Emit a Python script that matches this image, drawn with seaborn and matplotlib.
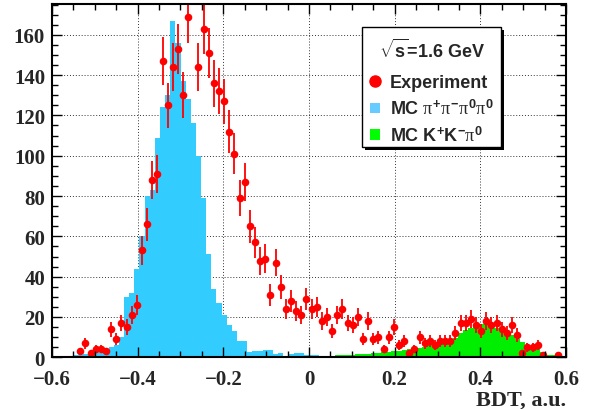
import numpy as np
import pandas as pd
import matplotlib
matplotlib.use("Agg")
import matplotlib.pyplot as plt
import seaborn as sns
from matplotlib.lines import Line2D
from matplotlib.patches import Patch, Rectangle
from matplotlib.ticker import MultipleLocator

# ---------------- data ----------------
bdt_range = (-0.6, 0.6)
n_bins = 100

# Experiment counts per bin (100 bins from -0.6 to 0.6)
exp_counts = [
    0, 0, 0, 0, 0, 3, 7, 2, 4, 4,
    3, 14, 9, 17, 15, 21, 26, 53, 66, 88,
    91, 147, 125, 144, 153, 130, 169, 192, 144, 163,
    151, 136, 132, 127, 112, 101, 79, 87, 65, 57,
    48, 49, 31, 47, 35, 24, 28, 23, 21, 29,
    24, 25, 18, 20, 13, 21, 24, 17, 16, 20,
    9, 18, 9, 10, 4, 10, 15, 6, 8, 2,
    4, 10, 7, 8, 6, 8, 8, 8, 12, 17,
    17, 19, 16, 13, 18, 16, 17, 14, 12, 16,
    11, 2, 5, 5, 6, 1, 0, 0, 1, 0,
]

# MC pi+ pi- pi0 pi0
mc_4pi = [
    0, 0, 0, 0, 1, 1, 1.5, 2, 2, 2,
    3, 5, 6, 10, 30, 32, 44, 60, 80, 83,
    109, 124, 130, 167, 156, 137, 128, 116, 100, 79,
    51, 34, 27, 21, 16, 13, 8, 8, 2.5, 3,
    3, 3.5, 3.5, 1.5, 2, 0.5, 1.5, 2, 2, 1,
    1, 1, 0, 0, 0, 0, 0, 0, 0, 0,
    0, 0, 0, 0, 0, 0, 0, 0, 0, 0,
    0, 0, 0, 0, 0, 0, 0, 0, 0, 0,
    0, 0, 0, 0, 0, 0, 0, 0, 0, 0,
    0, 0, 0, 0, 0, 0, 0, 0, 0, 0,
]

# MC K+ K- pi0
mc_kkpi = [
    0.5, 0.5, 0.5, 0.5, 0.5, 0.5, 0.5, 0.5, 0.5, 0.5,
    0.5, 0.5, 0.5, 0.5, 0.5, 0.5, 0.5, 0.5, 0.5, 0.5,
    0.5, 0.5, 0.5, 0.5, 0.5, 0.5, 0.5, 0.5, 0.5, 0.5,
    0.5, 0.5, 0.5, 0.5, 0.5, 0.5, 0.5, 0.5, 0.5, 0.5,
    0.5, 0.5, 0.5, 0.5, 0.5, 0.5, 0.5, 0.6, 0.6, 0.6,
    0.7, 0.7, 0.7, 0.8, 0.8, 0.9, 1.0, 1.1, 1.2, 1.4,
    1.6, 1.8, 2.0, 2.3, 2.5, 2.8, 3.0, 3.3, 3.6, 4.0,
    4.3, 4.6, 5, 6, 7, 7, 7.5, 8, 9.5, 12,
    13.5, 14.5, 15.5, 16.5, 16.5, 15.5, 14.5, 13.5, 12, 11,
    9, 7.5, 6, 4.5, 4, 2.5, 1.2, 1, 0.8, 0.5,
]

y_max = 175.4
x_major = [-0.6, -0.4, -0.2, 0, 0.2, 0.4, 0.6]
x_major_labels = ["\u22120.6", "\u22120.4", "\u22120.2", "0", "0.2", "0.4", "0.6"]

# ---------------- derived ----------------
edges = np.linspace(bdt_range[0], bdt_range[1], n_bins + 1)
centers = 0.5 * (edges[:-1] + edges[1:])
df = pd.DataFrame({"bdt": centers, "exp": exp_counts,
                   "mc4pi": mc_4pi, "mckk": mc_kkpi})
df["err"] = np.sqrt(df["exp"])
pts = df[df["exp"] > 0]

BLUE = "#33ccff"
GREEN = "#00ee00"
RED = "#ff0000"

sns.set_theme(style="ticks")
plt.rcParams["font.family"] = ["Liberation Serif", "DejaVu Serif"]
plt.rcParams["mathtext.fontset"] = "custom"
plt.rcParams["mathtext.rm"] = "Liberation Serif"
plt.rcParams["mathtext.it"] = "Liberation Serif"
plt.rcParams["mathtext.bf"] = "Liberation Sans:bold"

fig = plt.figure(figsize=(5.9, 4.1), dpi=100)
pos = [52 / 590, 1 - 358.3 / 410, (566 - 52) / 590, (358.3 - 4.7) / 410]
ax = fig.add_axes(pos)
ax.set_axisbelow(True)

sns.histplot(data=df, x="bdt", weights="mc4pi", bins=n_bins, binrange=bdt_range,
             element="step", fill=True, color=BLUE, alpha=1, linewidth=0,
             ax=ax, zorder=1)
sns.histplot(data=df, x="bdt", weights="mckk", bins=n_bins, binrange=bdt_range,
             element="step", fill=True, color=GREEN, alpha=1, linewidth=0,
             ax=ax, zorder=2)

ax.errorbar(pts["bdt"], pts["exp"], yerr=pts["err"], fmt="none",
            ecolor=RED, elinewidth=1.3, capsize=0, zorder=4)
sns.scatterplot(data=pts, x="bdt", y="exp", color=RED, s=30,
                edgecolor=RED, linewidth=0, ax=ax, zorder=5)

ax.set_xlim(*bdt_range)
ax.set_ylim(0, y_max)
ax.set_xticks(x_major)
ax.xaxis.set_minor_locator(MultipleLocator(0.05))
ax.yaxis.set_major_locator(MultipleLocator(20))
ax.yaxis.set_minor_locator(MultipleLocator(5))
ax.grid(True, which="major", color="black", linestyle=(0, (1, 2)),
        linewidth=0.7, alpha=0.8)
ax.tick_params(axis="y", which="both", length=0, labelsize=15, pad=5)
ax.tick_params(axis="x", which="both", length=0, labelsize=15, pad=8.5)
ax.set_xticklabels(x_major_labels)
for lab in ax.get_xticklabels() + ax.get_yticklabels():
    lab.set_fontfamily("Liberation Serif")
    lab.set_fontweight("bold")
ax.set_ylabel("")
ax.set_xlabel("BDT, a.u.", loc="right", fontsize=16, fontweight="bold",
              fontfamily="Liberation Serif", labelpad=0)
for s in ax.spines.values():
    s.set_visible(False)

# overlay axes for ticks/frame on top of the histograms
ov = fig.add_axes(pos, sharex=ax, sharey=ax)
ov.patch.set_visible(False)
ov.grid(False)
ov.tick_params(which="both", direction="in", top=True, right=True,
               labelbottom=False, labelleft=False, color="black")
ov.tick_params(which="major", length=7.5, width=1.0)
ov.tick_params(which="minor", length=4, width=1.0)
for s in ov.spines.values():
    s.set_linewidth(1.5)
    s.set_color("black")
    s.set_visible(True)
ov.set_xlabel("")
ov.set_ylabel("")

# legend box with drop shadow (axes-fraction layout)
box_x0, box_y0, box_w, box_h = 0.6025, 0.594, 0.271, 0.341
ov.add_patch(Rectangle((box_x0 + 0.006, box_y0 - 0.009), box_w, box_h,
                       transform=ov.transAxes, facecolor="black",
                       edgecolor="none", zorder=8, clip_on=False))
ov.add_patch(Rectangle((box_x0, box_y0), box_w, box_h,
                       transform=ov.transAxes, facecolor="white",
                       edgecolor="black", linewidth=1.0, zorder=9, clip_on=False))

handles = [
    Line2D([], [], marker="o", color=RED, linestyle="none", markersize=8),
    Patch(facecolor="#66ccff", edgecolor="none"),
    Patch(facecolor="#00ff00", edgecolor="none"),
]
labels = ["Experiment",
          r"MC $\pi^{\mathbf{+}}\pi^{\mathbf{-}}\pi^{\mathbf{0}}\pi^{\mathbf{0}}$",
          r"MC K$^{\mathbf{+}}$K$^{\mathbf{-}}$$\pi^{\mathbf{0}}$"]
leg = ov.legend(handles, labels, loc="upper left",
                bbox_to_anchor=(0.619, 0.905, 0.24, 0.0), mode="expand",
                title=r"$\sqrt{\mathbf{s}}$=1.6 GeV",
                prop={"family": "Liberation Sans", "weight": "bold", "size": 13},
                title_fontproperties={"family": "Liberation Sans",
                                      "weight": "bold", "size": 13},
                frameon=False,
                borderpad=0, labelspacing=0.42, handlelength=0.55,
                handleheight=0.55, handletextpad=0.55, borderaxespad=0)
leg._legend_box.sep = 10
leg.set_zorder(10)

fig.savefig("out.png", dpi=100, facecolor="white")
